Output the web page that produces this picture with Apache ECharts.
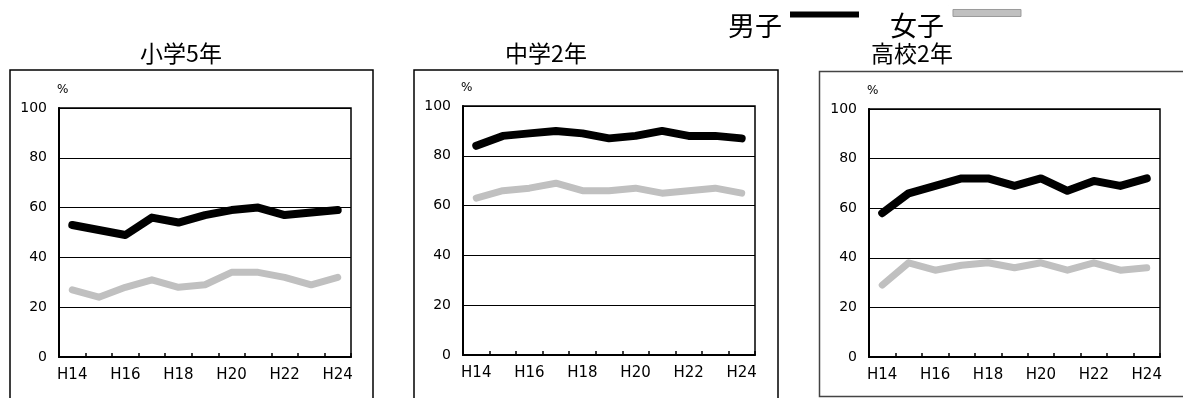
<!DOCTYPE html>
<html>
<head>
<meta charset="utf-8">
<script src="https://cdn.jsdelivr.net/npm/echarts@6/dist/echarts.min.js"></script>
<style>
html,body{margin:0;padding:0;background:#fff;}
#chart{width:1183px;height:398px;}
</style>
</head>
<body>
<div id="chart"></div>
<script>
const categories = ['H14','H15','H16','H17','H18','H19','H20','H21','H22','H23','H24'];
const panelTitles = ['小学5年','中学2年','高校2年'];
const seriesNames = ['男子','女子'];
const yTicks = [0,20,40,60,80,100];

const elemBoys  = [53,51,49,56,54,57,59,60,57,58,59];
const elemGirls = [27,24,28,31,28,29,34,34,32,29,32];
const juniorBoys  = [84,88,89,90,89,87,88,90,88,88,87];
const juniorGirls = [63,66,67,69,66,66,67,65,66,67,65];
const highBoys  = [58,66,69,72,72,69,72,67,71,69,72];
const highGirls = [29,38,35,37,38,36,38,35,38,35,36];

const panelData = [[elemBoys, elemGirls],[juniorBoys, juniorGirls],[highBoys, highGirls]];

const grids = [
  {left:59, top:108, width:292, height:249},
  {left:463, top:106, width:292, height:249},
  {left:869, top:109, width:291, height:248}
];
const titleCenters = [181, 546, 912];
const lineColors = ['#000000', '#c0c0c0'];
const lineWidths = [8, 7];
const numFont = 'DejaVu Sans';
const cjkFont = '"Noto Sans CJK JP"';

const xAxes = [], yAxes = [], series = [], titles = [];
grids.forEach((g, i) => {
  titles.push({
    text: panelTitles[i], left: titleCenters[i], top: 42, textAlign: 'center', padding: 0,
    textStyle: {fontFamily: cjkFont, fontSize: 23, fontWeight: 'normal', color: '#000'}
  });
  xAxes.push({
    type: 'category', gridIndex: i, data: categories, boundaryGap: true,
    axisLine: {lineStyle: {color: '#000', width: 2}},
    axisTick: {show: true, inside: true, length: 4, interval: 0, lineStyle: {color: '#000', width: 1.5}},
    axisLabel: {interval: 1, margin: 11, fontFamily: numFont, fontSize: 15, color: '#000'}
  });
  yAxes.push({
    type: 'value', gridIndex: i, min: yTicks[0], max: yTicks[yTicks.length-1], interval: yTicks[1]-yTicks[0],
    name: '%', nameLocation: 'end', nameGap: 12,
    nameTextStyle: {fontFamily: numFont, fontSize: 12, color: '#000', align: 'left', padding: [0,0,0,-2]},
    axisLine: {show: true, lineStyle: {color: '#000', width: 2}},
    axisTick: {show: false},
    axisLabel: {margin: 12, fontFamily: numFont, fontSize: 14, color: '#000'},
    splitLine: {show: true, lineStyle: {color: '#000', width: 1}}
  });
  panelData[i].forEach((vals, k) => {
    series.push({
      name: seriesNames[k], type: 'line', xAxisIndex: i, yAxisIndex: i,
      data: vals, symbol: 'none', silent: true,
      lineStyle: {color: lineColors[k], width: lineWidths[k], join: 'round', cap: 'round'},
      itemStyle: {color: lineColors[k]},
      z: k === 0 ? 3 : 2
    });
  });
});

const chart = echarts.init(document.getElementById('chart'), null, {renderer: 'canvas'});
chart.setOption({
  animation: false,
  backgroundColor: '#fff',
  title: titles,
  legend: {
    left: 728, top: 5, align: 'right', itemGap: 31, itemWidth: 72, itemHeight: 40,
    padding: 0, selectedMode: false,
    textStyle: {fontFamily: cjkFont, fontSize: 27, color: '#000'},
    data: [
      {name: '男子', icon: 'path://M3,6 L72,6 L72,12 L3,12 Z M0,0 L0.01,0 L0,0.01 Z M0,40 L0.01,40 L0,40.01 Z', itemStyle: {color: '#000', borderWidth: 0}},
      {name: '女子', icon: 'path://M4,4 L72,4 L72,11 L4,11 Z M0,0 L0.01,0 L0,0.01 Z M0,40 L0.01,40 L0,40.01 Z', itemStyle: {color: '#c0c0c0', borderColor: '#9a9a9a', borderWidth: 1}}
    ]
  },
  grid: grids.map(g => Object.assign({show: true, borderColor: '#000', borderWidth: 1.5, containLabel: false}, g)),
  xAxis: xAxes,
  yAxis: yAxes,
  series: series,
  graphic: [
    {type: 'rect', shape: {x: 10, y: 70, width: 363, height: 340}, style: {fill: 'none', stroke: '#000', lineWidth: 1.5}, silent: true, z: -1},
    {type: 'rect', shape: {x: 414, y: 70, width: 364, height: 340}, style: {fill: 'none', stroke: '#000', lineWidth: 1.5}, silent: true, z: -1},
    {type: 'rect', shape: {x: 819.5, y: 71.5, width: 400, height: 325}, style: {fill: 'none', stroke: '#444', lineWidth: 1.5}, silent: true, z: -1}
  ]
});
</script>
</body>
</html>
